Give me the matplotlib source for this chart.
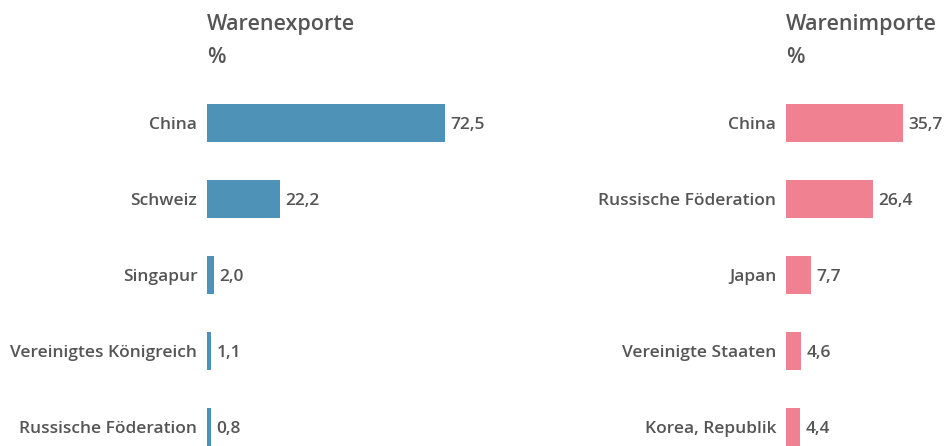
import matplotlib.pyplot as plt

# data
export_countries = ["China", "Schweiz", "Singapur", "Vereinigtes Königreich", "Russische Föderation"]
export_values = [72.5, 22.2, 2.0, 1.1, 0.8]
import_countries = ["China", "Russische Föderation", "Japan", "Vereinigte Staaten", "Korea, Republik"]
import_values = [35.7, 26.4, 7.7, 4.6, 4.4]

text_col = "#555555"
plt.rcParams['font.family'] = ['Open Sans', 'DejaVu Sans']

W, H = 944, 446
fig = plt.figure(figsize=(W / 100, H / 100), dpi=100)

px_per_unit = 3.28
row_px = 76
top_px = 123 - row_px / 2
ax_h = row_px * 5

def make_panel(left_px, width_px, countries, values, color, title):
    ax = fig.add_axes([left_px / W, (H - top_px - ax_h) / H, width_px / W, ax_h / H])
    ax.set_xlim(0, width_px / px_per_unit)
    ax.set_ylim(4.5, -0.5)
    ypos = list(range(len(values)))
    # keep tiny bars visible (min width like the original)
    widths = [max(v, 1.2) for v in values]
    ax.barh(ypos, widths, height=0.51, color=color)
    for y, w, v in zip(ypos, widths, values):
        ax.annotate(f"{v:.1f}".replace(".", ","), (w, y), xytext=(4, 0),
                    textcoords="offset points", va="center_baseline", ha="left",
                    fontsize=12.5, fontweight="semibold", color=text_col)
    ax.set_yticks(ypos)
    ax.set_yticklabels(countries, fontsize=12.5, fontweight="semibold", color=text_col,
                       va="center_baseline")
    ax.tick_params(axis="y", length=0, pad=7)
    ax.set_xticks([])
    for s in ax.spines.values():
        s.set_visible(False)
    fig.text(left_px / W, 1 - 22 / H, title, fontsize=15.5, fontweight="semibold",
             color=text_col, va="center_baseline", ha="left")
    fig.text(left_px / W, 1 - 55 / H, "%", fontsize=15.5, fontweight="semibold",
             color=text_col, va="center_baseline", ha="left")
    return ax

make_panel(207, 300, export_countries, export_values, "#4e93b7", "Warenexporte")
make_panel(786, 158, import_countries, import_values, "#f08190", "Warenimporte")

plt.savefig("out.png", dpi=100)
